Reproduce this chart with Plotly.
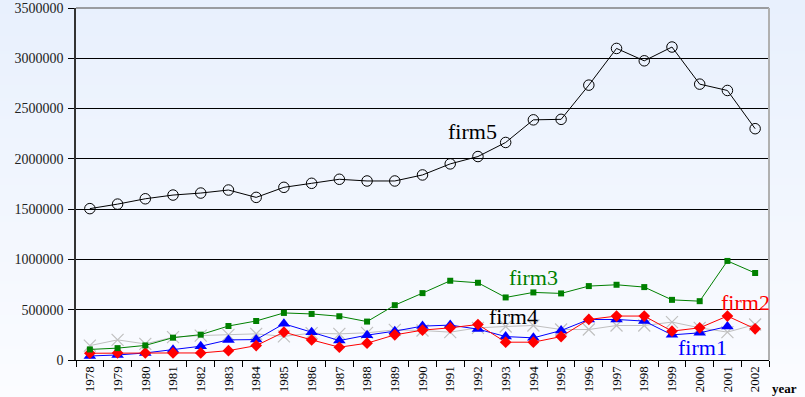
import base64
import struct
import zlib

import plotly.graph_objects as go

years = [str(y) for y in range(1978, 2003)]

firm5 = [1505000, 1550000, 1603000, 1640000, 1660000, 1690000, 1617000, 1717000, 1757000,
         1797000, 1780000, 1780000, 1840000, 1950000, 2023000, 2163000, 2388000, 2393000,
         2733000, 3098000, 2975000, 3112000, 2743000, 2680000, 2300000]
firm3 = [105000, 118000, 145000, 222000, 252000, 338000, 388000, 468000, 458000, 435000,
         382000, 545000, 665000, 788000, 768000, 622000, 672000, 662000, 735000, 748000,
         725000, 598000, 585000, 985000, 865000]
firm1 = [40000, 50000, 70000, 103000, 137000, 200000, 203000, 360000, 277000, 193000,
         247000, 287000, 337000, 347000, 307000, 233000, 220000, 293000, 403000, 403000,
         387000, 250000, 270000, 333000, None]
firm2 = [67000, 70000, 70000, 70000, 70000, 93000, 143000, 277000, 200000, 127000,
         167000, 250000, 297000, 320000, 353000, 177000, 177000, 233000, 403000, 437000,
         437000, 287000, 320000, 437000, 310000]
firm4 = [143000, 200000, 160000, 227000, 243000, 250000, 260000, 235000, 267000, 260000,
         270000, 300000, 293000, 277000, 320000, 333000, 343000, 303000, 303000, 343000,
         343000, 377000, 320000, 277000, 353000]

y_ticks = [0, 500000, 1000000, 1500000, 2000000, 2500000, 3000000, 3500000]

# series label texts, the category they sit near, and their value level
label_names = ["firm5", "firm3", "firm4", "firm2", "firm1"]
label_years = ["1991", "1994", "1993", "2001", "1999"]
label_values = [2275000, 820000, 435000, 575000, 120000]
label_colors = ["#000000", "#008000", "#000000", "#ff0000", "#0000ff"]
label_shifts = [22, 0, 8, 18, 31]

serif = "Liberation Serif, Times New Roman, serif"


def gradient_png(top, bottom, h=128):
    rows = b""
    for i in range(h):
        t = i / (h - 1)
        px = bytes(int(round(a + (b - a) * t)) for a, b in zip(top, bottom))
        rows += b"\x00" + px
    def chunk(tag, data):
        c = struct.pack(">I", len(data)) + tag + data
        return c + struct.pack(">I", zlib.crc32(tag + data) & 0xffffffff)
    png = b"\x89PNG\r\n\x1a\n"
    png += chunk(b"IHDR", struct.pack(">IIBBBBB", 1, h, 8, 2, 0, 0, 0))
    png += chunk(b"IDAT", zlib.compress(rows))
    png += chunk(b"IEND", b"")
    return "data:image/png;base64," + base64.b64encode(png).decode()


fig = go.Figure()
fig.add_trace(go.Scatter(x=years, y=firm4, mode="lines+markers", name="firm4",
                         line=dict(color="#c0c0c0", width=1),
                         marker=dict(symbol="x-thin-open", size=12,
                                     line=dict(color="#b8b8b8", width=1.2))))
fig.add_trace(go.Scatter(x=years, y=firm1, mode="lines+markers", name="firm1",
                         line=dict(color="#0000ff", width=1),
                         marker=dict(symbol="triangle-up", size=11, color="#0000ff")))
fig.add_trace(go.Scatter(x=years, y=firm2, mode="lines+markers", name="firm2",
                         line=dict(color="#ff0000", width=1),
                         marker=dict(symbol="diamond", size=9, color="#ff0000")))
fig.add_trace(go.Scatter(x=years, y=firm3, mode="lines+markers", name="firm3",
                         line=dict(color="#008000", width=1),
                         marker=dict(symbol="square", size=6, color="#008000")))
fig.add_trace(go.Scatter(x=years, y=firm5, mode="lines+markers", name="firm5",
                         line=dict(color="#000000", width=1),
                         marker=dict(symbol="circle-open", size=10.5,
                                     line=dict(color="#000000", width=1))))

for txt, yr, yv, col, sh in zip(label_names, label_years, label_values, label_colors, label_shifts):
    fig.add_annotation(x=years.index(yr), y=yv, xshift=sh, text=txt, showarrow=False,
                       font=dict(family=serif, size=22, color=col))

fig.add_annotation(xref="paper", yref="paper", x=1.0, y=0, xshift=30, yshift=-28,
                   xanchor="right", yanchor="middle", text="<b>year</b>", showarrow=False,
                   font=dict(family=serif, size=13, color="#000000"))

W, H = 805, 397
ml, mr, mt, mb = 76, 36, 8, 37
pw, ph = W - ml - mr, H - mt - mb

fig.add_layout_image(source=gradient_png((232, 240, 253), (251, 252, 255)),
                     xref="paper", yref="paper",
                     x=-ml / pw, y=1 + mt / ph, sizex=W / pw, sizey=H / ph,
                     xanchor="left", yanchor="top", sizing="stretch", layer="below")

fig.update_layout(
    width=W, height=H,
    margin=dict(l=ml, r=mr, t=mt, b=mb, autoexpand=False),
    paper_bgcolor="#f2f7fe",
    plot_bgcolor="rgba(0,0,0,0)",
    showlegend=False,
    font=dict(family=serif, color="#000000"),
)
fig.update_xaxes(type="category", tickson="boundaries", ticks="outside", ticklen=6,
                 tickcolor="#000000", showline=True, linecolor="#000000", linewidth=1,
                 showgrid=False, tickangle=-90, tickfont=dict(family=serif, size=13),
                 automargin=False, range=[-0.5, 24.5])
fig.update_yaxes(range=[0, 3500000], tickvals=y_ticks,
                 ticktext=[str(v) for v in y_ticks], ticks="outside", ticklen=6,
                 tickcolor="#000000", showline=True, linecolor="#333333", linewidth=1.5,
                 showgrid=True, gridcolor="#000000", gridwidth=1, zeroline=False,
                 automargin=False, ticklabelstandoff=2,
                 tickfont=dict(family=serif, size=14, color="#222222"))
# top and right gray border
fig.add_shape(type="line", xref="paper", yref="paper", x0=0, x1=1, y0=1, y1=1,
              line=dict(color="#808080", width=1.5))
fig.add_shape(type="line", xref="paper", yref="paper", x0=1, x1=1, y0=0, y1=1,
              line=dict(color="#b0b0b0", width=2))

fig.write_html("out.html")
